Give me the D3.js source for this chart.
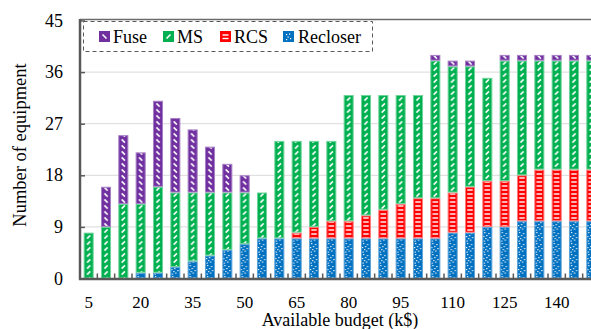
<!DOCTYPE html>
<html>
<head>
<meta charset="utf-8">
<script src="https://cdn.jsdelivr.net/npm/d3@7"></script>
<style>
  body { margin: 0; background: #fff; }
  svg { display: block; }
  svg text { font-family: "Liberation Serif", "Times New Roman", serif; }
</style>
</head>
<body>
<svg id="chart"></svg>
<script>
const budget = [5, 10, 15, 20, 25, 30, 35, 40, 45, 50, 55, 60, 65, 70, 75, 80, 85, 90, 95, 100, 105, 110, 115, 120, 125, 130, 135, 140, 145, 150];
const recloser = [0, 0, 0, 1, 1, 2, 3, 4, 5, 6, 7, 7, 7, 7, 7, 7, 7, 7, 7, 7, 7, 8, 8, 9, 9, 10, 10, 10, 10, 10];
const rcs = [0, 0, 0, 0, 0, 0, 0, 0, 0, 0, 0, 0, 1, 2, 3, 3, 4, 5, 6, 7, 7, 7, 8, 8, 8, 8, 9, 9, 9, 9];
const ms = [8, 9, 13, 12, 15, 13, 12, 11, 10, 9, 8, 17, 16, 15, 14, 22, 21, 20, 19, 18, 24, 22, 21, 18, 21, 20, 19, 19, 19, 19];
const fuse = [0, 7, 12, 9, 15, 13, 11, 8, 5, 3, 0, 0, 0, 0, 0, 0, 0, 0, 0, 0, 1, 1, 1, 0, 1, 1, 1, 1, 1, 1];
const xTickLabels = [5, 20, 35, 50, 65, 80, 95, 110, 125, 140];
const yTicks = [0, 9, 18, 27, 36, 45];
const legendNames = ["Fuse", "MS", "RCS", "Recloser"];

const width = 591;
const height = 329;
const plotLeft = 80, plotRight = 600, plotTop = 20.5, plotBottom = 278.5;

const colors = { fuse: "#7030a0", ms: "#00b050", rcs: "#ff0000", recloser: "#0070c0" };
const edge = { fuse: "#a67fc4", ms: "#6fd49a", rcs: "#ff7a7a", recloser: "#5ea4d9" };

const rows = budget.map((b, i) => ({ budget: b, recloser: recloser[i], rcs: rcs[i], ms: ms[i], fuse: fuse[i] }));
const keys = ["recloser", "rcs", "ms", "fuse"];
const series = d3.stack().keys(keys)(rows);

const svg = d3.select("#chart").attr("width", width).attr("height", height);

const xScale = d3.scaleBand().domain(budget).range([plotLeft, plotRight]).paddingInner(0.42).paddingOuter(0.21);
const yScale = d3.scaleLinear().domain([0, 45]).range([plotBottom, plotTop]);
const step = xScale.step();
const bw = xScale.bandwidth();

// patterns
const defs = svg.append("defs");
function makePattern(id, key, x0, h, draw) {
  const p = defs.append("pattern").attr("id", id)
    .attr("patternUnits", "userSpaceOnUse")
    .attr("x", x0).attr("y", 0)
    .attr("width", step).attr("height", h);
  p.append("rect").attr("width", step).attr("height", h).attr("fill", colors[key]);
  draw(p);
}
function fusePat(p, cx) {
  p.append("line").attr("x1", cx - 1.6).attr("y1", 1.4).attr("x2", cx + 1.6).attr("y2", 4.6)
    .attr("stroke", "#fff").attr("stroke-width", 1.5);
}
function msPat(p, cx) {
  p.append("line").attr("x1", cx - 1.6).attr("y1", 4.6).attr("x2", cx + 1.6).attr("y2", 1.4)
    .attr("stroke", "#fff").attr("stroke-width", 1.5);
}
function rcsPat(p, cx) {
  p.append("line").attr("x1", cx - 2.8).attr("y1", 2).attr("x2", cx + 2.8).attr("y2", 2)
    .attr("stroke", "#fff").attr("stroke-width", 1.4);
}
const dots = [[2, 1], [6, 2], [4, 4], [1, 5], [7, 6], [3, 7], [5, 8.5], [1.5, 9.5]];
function recPat(p, cx) {
  dots.forEach(d => p.append("rect").attr("x", cx - 5 + d[0]).attr("y", d[1]).attr("width", 1.2).attr("height", 1.2).attr("fill", "#fff"));
}
const x0 = xScale(budget[0]);
makePattern("p-fuse", "fuse", x0, 6, p => fusePat(p, bw / 2));
makePattern("p-ms", "ms", x0, 6, p => msPat(p, bw / 2));
makePattern("p-rcs", "rcs", x0, 4, p => rcsPat(p, bw / 2));
makePattern("p-recloser", "recloser", x0, 11, p => recPat(p, bw / 2));

// grid lines
svg.append("g")
  .selectAll("line")
  .data(yTicks.filter(d => d > 0 && d < 45))
  .enter()
  .append("line")
  .attr("x1", plotLeft).attr("x2", width)
  .attr("y1", d => yScale(d)).attr("y2", d => yScale(d))
  .attr("stroke", "#d9d9d9").attr("stroke-width", 1);

// bars
svg.append("g")
  .selectAll("g")
  .data(series)
  .enter()
  .append("g")
  .attr("fill", d => "url(#p-" + d.key + ")")
  .attr("stroke", d => edge[d.key])
  .selectAll("rect")
  .data(d => d.filter(v => v[1] > v[0]))
  .enter()
  .append("rect")
  .attr("x", d => xScale(d.data.budget) + 0.5)
  .attr("y", d => yScale(d[1]) + 0.5)
  .attr("width", bw - 1)
  .attr("height", d => yScale(d[0]) - yScale(d[1]) - 1)
  .attr("stroke-width", 1);

// frame top
svg.append("line")
  .attr("x1", plotLeft).attr("x2", width).attr("y1", 19.5).attr("y2", 19.5)
  .attr("stroke", "#6b6b6b").attr("stroke-width", 1.5);

// y axis
const yAxis = svg.append("g")
  .attr("transform", `translate(${plotLeft}, 0)`)
  .call(d3.axisRight(yScale).tickValues(yTicks).tickSize(5).tickFormat(""));
yAxis.select(".domain").attr("stroke", "#595959").attr("stroke-width", 2.5).attr("d", `M0,19V${plotBottom + 1}`);
yAxis.selectAll(".tick line").attr("stroke", "#595959").attr("stroke-width", 1.5);

svg.append("g")
  .selectAll("text")
  .data(yTicks)
  .enter()
  .append("text")
  .attr("x", 63)
  .attr("y", d => yScale(d) + 6)
  .attr("text-anchor", "end")
  .attr("font-size", 18)
  .attr("fill", "#000")
  .text(d => d);

// x axis
const boundaries = budget.map(b => xScale(b) - (step - bw) / 2).slice(1);
svg.append("g")
  .selectAll("line")
  .data(boundaries)
  .enter()
  .append("line")
  .attr("x1", d => d).attr("x2", d => d)
  .attr("y1", plotBottom).attr("y2", plotBottom - 5)
  .attr("stroke", "#595959").attr("stroke-width", 1.5);

svg.append("line")
  .attr("x1", plotLeft - 1).attr("x2", width)
  .attr("y1", plotBottom + 0.5).attr("y2", plotBottom + 0.5)
  .attr("stroke", "#595959").attr("stroke-width", 2.5);

svg.append("g")
  .selectAll("text")
  .data(xTickLabels)
  .enter()
  .append("text")
  .attr("x", d => xScale(d) + bw / 2)
  .attr("y", 307.5)
  .attr("text-anchor", "middle")
  .attr("font-size", 17)
  .text(d => d);

// axis titles
svg.append("text")
  .attr("x", (plotLeft + plotRight) / 2)
  .attr("y", 326)
  .attr("text-anchor", "middle")
  .attr("font-size", 18)
  .text("Available budget (k$)");

svg.append("text")
  .attr("transform", "translate(26, 145) rotate(-90)")
  .attr("text-anchor", "middle")
  .attr("font-size", 18.5)
  .text("Number of equipment");

// legend
svg.append("rect")
  .attr("x", 83.5).attr("y", 21.5).attr("width", 289).attr("height", 30)
  .attr("fill", "#fff").attr("stroke", "#595959").attr("stroke-width", 1)
  .attr("stroke-dasharray", "4,3");

const legendKeys = ["fuse", "ms", "rcs", "recloser"];
const swatchX = [99, 163, 220, 283];
const textX = [113, 177, 234, 298];
const lg = svg.append("g");
legendKeys.forEach((k, i) => {
  const g = lg.append("g").attr("transform", `translate(${swatchX[i]}, 31)`);
  g.append("rect").attr("width", 11).attr("height", 11).attr("fill", colors[k]);
  if (k === "fuse") g.append("line").attr("x1", 3.5).attr("y1", 3.5).attr("x2", 7.5).attr("y2", 7.5).attr("stroke", "#fff").attr("stroke-width", 1.6);
  if (k === "ms") g.append("line").attr("x1", 3.5).attr("y1", 7.5).attr("x2", 7.5).attr("y2", 3.5).attr("stroke", "#fff").attr("stroke-width", 1.6);
  if (k === "rcs") {
    g.append("line").attr("x1", 2.5).attr("y1", 4).attr("x2", 8.5).attr("y2", 4).attr("stroke", "#fff").attr("stroke-width", 1.4);
    g.append("line").attr("x1", 2.5).attr("y1", 7.5).attr("x2", 8.5).attr("y2", 7.5).attr("stroke", "#fff").attr("stroke-width", 1.4);
  }
  if (k === "recloser") [[3, 3], [6, 2.5], [4.5, 5.5], [7, 7], [3, 8]].forEach(d =>
    g.append("rect").attr("x", d[0]).attr("y", d[1]).attr("width", 1.2).attr("height", 1.2).attr("fill", "#fff"));
  lg.append("text")
    .attr("x", textX[i]).attr("y", 43)
    .attr("font-size", 18)
    .text(legendNames[i]);
});
</script>
</body>
</html>
